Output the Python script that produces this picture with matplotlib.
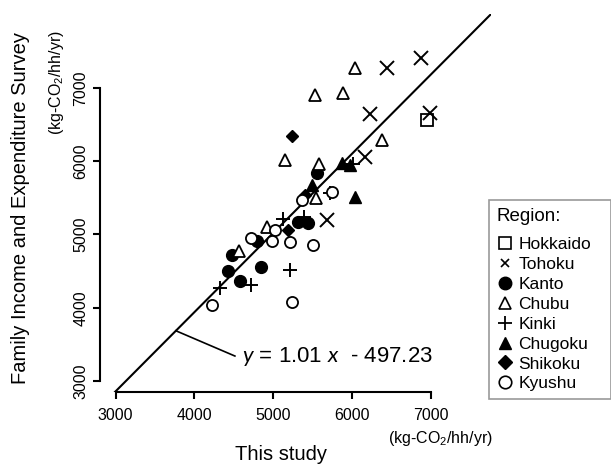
import matplotlib
matplotlib.use("Agg")
import matplotlib.pyplot as plt
from matplotlib.lines import Line2D

plt.rcParams['font.family'] = ['Liberation Sans', 'DejaVu Sans']
plt.rcParams['mathtext.fontset'] = 'custom'
plt.rcParams['mathtext.rm'] = 'Lato'
plt.rcParams['mathtext.it'] = 'Lato:italic'

# Werte (x = This study, y = Family Income and Expenditure Survey)
hokkaido_x = [6949]
hokkaido_y = [6563]
tohoku_x = [6441, 6873, 6225, 6987, 6162, 5679]
tohoku_y = [7273, 7410, 6645, 6659, 6058, 5198]
kanto_x = [5551, 5317, 5444, 4797, 4472, 4429, 4844, 4577]
kanto_y = [5843, 5174, 5161, 4915, 4720, 4506, 4560, 4369]
chubu_x = [6037, 5881, 5529, 6375, 5580, 5542, 5151, 4924, 4569]
chubu_y = [7268, 6935, 6904, 6290, 5962, 5494, 6017, 5098, 4779]
kinki_x = [5127, 5390, 5719, 5212, 4324, 4717, 6015]
kinki_y = [5207, 5243, 5562, 4515, 4265, 4310, 5958]
chugoku_x = [5868, 5973, 6037, 5487]
chugoku_y = [5980, 5948, 5516, 5675]
shikoku_x = [5234, 5190, 5402]
shikoku_y = [6349, 5061, 5539]
kyushu_x = [5741, 5360, 5022, 4713, 4979, 5212, 5500, 4218, 5233]
kyushu_y = [5584, 5471, 5061, 4948, 4915, 4902, 4856, 4037, 4082]

# Gerade wie im Bild gezeichnet
line_slope = 1.081
line_intercept = -383
equation = r'$\mathit{y}$ = 1.01 $\mathit{x}$  - 497.23'

tick_values = [3000, 4000, 5000, 6000, 7000]

fig = plt.figure(figsize=(6.11, 4.66), dpi=100)
ax = fig.add_axes([100 / 611, 74 / 466, 391 / 611, 378 / 466])
ax.set_xlim(2801, 7763)
ax.set_ylim(2850, 8010)

# Punkte pro Region
ax.plot(hokkaido_x, hokkaido_y, 's', ms=8.5, mfc='white', mec='black', mew=1.3, zorder=3)
ax.plot(tohoku_x, tohoku_y, 'x', ms=10, color='black', mew=1.4, zorder=3)
ax.plot(kanto_x, kanto_y, 'o', ms=8.5, color='black', zorder=3)
ax.plot(chubu_x, chubu_y, '^', ms=9, mfc='white', mec='black', mew=1.3, zorder=3)
ax.plot(kinki_x, kinki_y, '+', ms=10.5, color='black', mew=1.4, zorder=3)
ax.plot(chugoku_x, chugoku_y, '^', ms=9, color='black', zorder=3)
ax.plot(shikoku_x, shikoku_y, 'D', ms=6.5, color='black', zorder=3)
ax.plot(kyushu_x, kyushu_y, 'o', ms=8, mfc='white', mec='black', mew=1.3, zorder=3)

ax.axline((0, line_intercept), slope=line_slope, color='black', lw=1.5, zorder=2)

# Hinweislinie zur Gleichung
lead_x = 3764
ax.plot([lead_x, 4513], [line_slope * lead_x + line_intercept, 3341], color='black', lw=1.2)
ax.text(4600, 3330, equation, fontsize=16, va='center', ha='left')

# Achsen im R-Stil
for side in ['top', 'right']:
    ax.spines[side].set_visible(False)
for side in ['left', 'bottom']:
    ax.spines[side].set_linewidth(1.5)
    ax.spines[side].set_bounds(3000, 7000)
ax.set_xticks(tick_values)
ax.set_yticks(tick_values)
ax.tick_params(direction='out', length=5, width=1.5, labelsize=11.5)
ax.tick_params(axis='x', pad=6.5)
ax.tick_params(axis='y', pad=3.5)
for lab in ax.get_yticklabels():
    lab.set_rotation(90)
    lab.set_va('center')

fig.text(281 / 611, 1 - 455 / 466, 'This study', fontsize=14.5, ha='center', va='center')
fig.text(21 / 611, 1 - 208 / 466, 'Family Income and Expenditure Survey', fontsize=14.5,
         rotation=90, ha='center', va='center')
units = r'(kg-CO$_\mathregular{2}$/hh/yr)'
fig.text(493 / 611, 1 - 438 / 466, units, fontsize=11.5, ha='right', va='center')
fig.text(57 / 611, 1 - 83 / 466, units, fontsize=11.5, rotation=90, ha='center', va='center')

# Legende
handles = [
    Line2D([], [], ls='', marker='s', ms=8, mfc='white', mec='black', mew=1.2),
    Line2D([], [], ls='', marker='x', ms=6, color='black', mew=1.2),
    Line2D([], [], ls='', marker='o', ms=9, color='black'),
    Line2D([], [], ls='', marker='^', ms=9, mfc='white', mec='black', mew=1.2),
    Line2D([], [], ls='', marker='+', ms=10, color='black', mew=1.3),
    Line2D([], [], ls='', marker='^', ms=9, color='black'),
    Line2D([], [], ls='', marker='D', ms=7, color='black'),
    Line2D([], [], ls='', marker='o', ms=9, mfc='white', mec='black', mew=1.2),
]
labels = ['Hokkaido', 'Tohoku', 'Kanto', 'Chubu', 'Kinki', 'Chugoku', 'Shikoku', 'Kyushu']
leg = fig.legend(handles, labels, title='Region:', loc='upper left',
                 bbox_to_anchor=(489 / 611, 1 - 200 / 466, 122 / 611, 0), mode='expand',
                 fontsize=12.5, title_fontsize=13.5, frameon=True, fancybox=False,
                 handlelength=0.9, handletextpad=0.35, labelspacing=0.27,
                 borderpad=0.45, borderaxespad=0)
leg._legend_box.align = 'left'
leg._legend_box.sep = 9
leg.get_frame().set_edgecolor('#808080')
leg.get_frame().set_linewidth(1.2)

fig.savefig('out.png', dpi=100)
